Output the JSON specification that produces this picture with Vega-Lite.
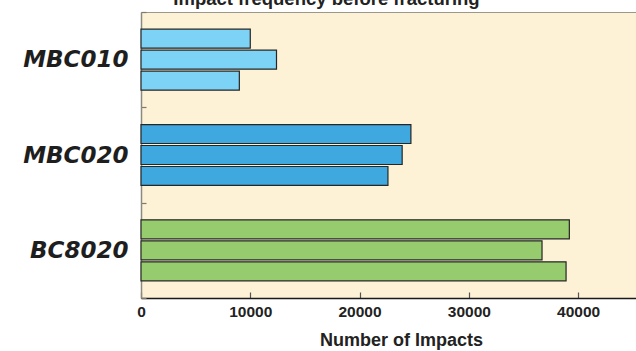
{
  "$schema": "https://vega.github.io/schema/vega-lite/v6.json",
  "autosize": "none",
  "width": 495,
  "height": 286,
  "padding": {"left": 141, "top": 12, "right": 0, "bottom": 53},
  "background": "#ffffff",
  "title": {
    "text": "Impact frequency before fracturing",
    "font": "Liberation Sans",
    "fontSize": 18.5,
    "fontWeight": "bold",
    "color": "#222222",
    "baseline": "alphabetic",
    "offset": 4,
    "dy": 26,
    "frame": "group",
    "dx": -62
  },
  "config": {
    "view": {"fill": "#fdf1d6", "stroke": "#9a978c", "strokeWidth": 1}
  },
  "data": {
    "values": [
      {"material": "MBC010", "run": "1", "impacts": 10000},
      {"material": "MBC010", "run": "2", "impacts": 12400},
      {"material": "MBC010", "run": "3", "impacts": 9000},
      {"material": "MBC020", "run": "1", "impacts": 24700},
      {"material": "MBC020", "run": "2", "impacts": 23900},
      {"material": "MBC020", "run": "3", "impacts": 22600},
      {"material": "BC8020", "run": "1", "impacts": 39200},
      {"material": "BC8020", "run": "2", "impacts": 36700},
      {"material": "BC8020", "run": "3", "impacts": 38900}
    ]
  },
  "mark": {"type": "bar", "stroke": "#262626", "strokeWidth": 1.2},
  "encoding": {
    "y": {
      "field": "material",
      "type": "nominal",
      "sort": ["MBC010", "MBC020", "BC8020"],
      "scale": {"paddingInner": 0, "paddingOuter": 0},
      "axis": {
        "title": null,
        "tickBand": "extent",
        "tickSize": -5,
        "tickColor": "#7a7a70",
        "tickWidth": 1.2,
        "domainColor": "#8c8a80",
        "domainWidth": 1.5,
        "labelPadding": 18,
        "labelFont": "DejaVu Sans",
        "labelFontSize": 23,
        "labelFontWeight": "bold",
        "labelFontStyle": "italic",
        "labelColor": "#1e1e1e"
      }
    },
    "yOffset": {
      "field": "run",
      "type": "nominal",
      "scale": {"domain": ["1", "2", "3"], "paddingInner": 0.095, "paddingOuter": 0.82}
    },
    "x": {
      "field": "impacts",
      "type": "quantitative",
      "scale": {"domain": [0, 45300], "nice": false},
      "axis": {
        "title": "Number of Impacts",
        "values": [0, 10000, 20000, 30000, 40000],
        "format": "d",
        "grid": false,
        "labelFlush": false,
        "tickSize": -6,
        "tickColor": "#555555",
        "tickWidth": 1.2,
        "domainColor": "#1a1a1a",
        "domainWidth": 1.5,
        "labelPadding": 12,
        "labelFont": "Liberation Sans",
        "labelFontSize": 15.5,
        "labelFontWeight": "bold",
        "labelColor": "#222222",
        "titleFont": "Liberation Sans",
        "titleFontSize": 18,
        "titleFontWeight": "bold",
        "titleColor": "#222222",
        "titlePadding": 12,
        "titleX": 260
      }
    },
    "color": {
      "field": "material",
      "type": "nominal",
      "scale": {"domain": ["MBC010", "MBC020", "BC8020"], "range": ["#7dd3f5", "#3fa9df", "#97cc6e"]},
      "legend": null
    }
  }
}
